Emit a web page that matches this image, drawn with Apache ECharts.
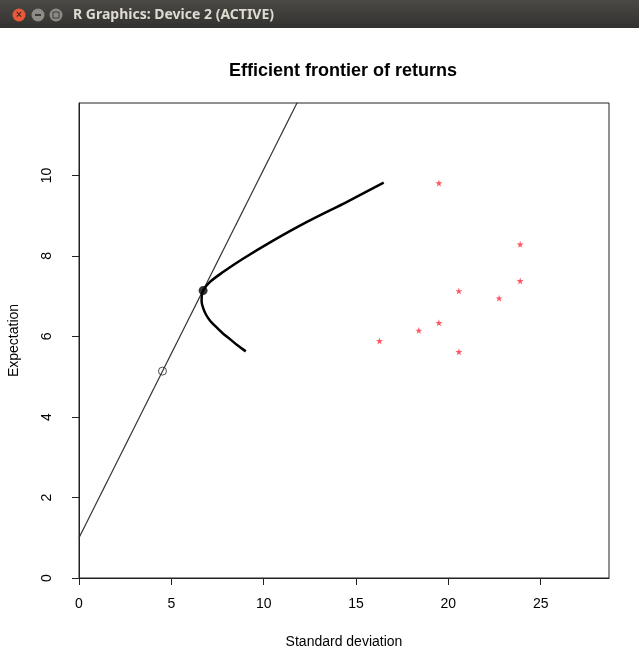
<!DOCTYPE html>
<html>
<head>
<meta charset="utf-8">
<script src="https://cdn.jsdelivr.net/npm/echarts@6/dist/echarts.min.js"></script>
<style>
html,body{margin:0;padding:0;background:#fff;}
#chart{width:639px;height:650px;}
</style>
</head>
<body>
<div id="chart"></div>
<script>
// Efficient frontier (standard deviation, expectation)
var frontierSd  = [9.03, 8.58, 8.16, 7.78, 7.44, 7.12, 6.88, 6.72, 6.64, 6.65, 6.72, 7.08, 7.80, 8.88, 10.51, 12.32, 14.49, 16.50];
var frontierExp = [5.63, 5.78, 5.94, 6.08, 6.23, 6.38, 6.54, 6.71, 6.87, 7.01, 7.14, 7.35, 7.60, 7.93, 8.38, 8.84, 9.34, 9.82];
// Individual assets (red stars)
var assetSd  = [19.49, 23.89, 23.89, 20.57, 22.75, 19.49, 18.40, 16.27, 20.57];
var assetExp = [9.81, 8.29, 7.38, 7.13, 6.95, 6.34, 6.15, 5.89, 5.62];
// Capital market line (through risk-free rate)
var cmlSd  = [0, 14];
var cmlExp = [1.0, 13.81];
// Tangency portfolio and an open-circle portfolio on the line
var tangency = [6.72, 7.14];
var openPt = [4.52, 5.14];
// Tick labels
var xTicks = [0, 5, 10, 15, 20, 25];
var yTicks = [0, 2, 4, 6, 8, 10];
var xMax = 28.7, yMax = 11.8;

function zip(a, b) { return a.map(function (v, i) { return [v, b[i]]; }); }

var chart = echarts.init(document.getElementById('chart'), null, {renderer: 'canvas'});
var FONT = '"Liberation Sans", Arial, Helvetica, sans-serif';
var star = 'path://M50,0 L61,35 L98,35 L68,57 L79,91 L50,70 L21,91 L32,57 L2,35 L39,35 Z';

var option = {
  backgroundColor: '#ffffff',
  animation: false,
  title: {
    text: 'Efficient frontier of returns',
    left: 338, top: 57, textAlign: 'center',
    textStyle: {fontFamily: FONT, fontSize: 18, fontWeight: 'bold', color: '#000'}
  },
  grid: {
    left: 79, right: 30, top: 103, bottom: 72,
    outerBoundsMode: 'none', containLabel: false,
    show: true, borderColor: '#222', borderWidth: 1, backgroundColor: 'transparent'
  },
  xAxis: {
    type: 'value', min: 0, max: xMax,
    name: 'Standard deviation', nameLocation: 'middle', nameGap: 57,
    nameTextStyle: {fontFamily: FONT, fontSize: 14, color: '#000'},
    axisLine: {show: true, onZero: false, lineStyle: {color: '#222', width: 1}},
    axisTick: {show: true, length: 7, inside: false, customValues: xTicks, lineStyle: {color: '#222'}},
    axisLabel: {customValues: xTicks, margin: 19, fontFamily: FONT, fontSize: 14, color: '#000'},
    splitLine: {show: false}
  },
  yAxis: {
    type: 'value', min: 0, max: yMax,
    name: 'Expectation', nameLocation: 'middle', nameGap: 58, nameRotate: 90,
    nameTextStyle: {fontFamily: FONT, fontSize: 14, color: '#000'},
    axisLine: {show: true, onZero: false, lineStyle: {color: '#222', width: 1}},
    axisTick: {show: true, length: 7, inside: false, customValues: yTicks, lineStyle: {color: '#222'}},
    axisLabel: {customValues: yTicks, rotate: 90, margin: 25, fontFamily: FONT, fontSize: 14, color: '#000'},
    splitLine: {show: false}
  },
  graphic: [
    {type: 'rect', left: 0, top: 0, z: 100,
     shape: {width: 639, height: 28},
     style: {fill: new echarts.graphic.LinearGradient(0, 0, 0, 1, [
       {offset: 0, color: '#4a4945'}, {offset: 1, color: '#333230'}])}},
    {type: 'circle', z: 101, shape: {cx: 19, cy: 15, r: 6.5}, style: {fill: '#e9593a'}},
    {type: 'text', z: 102, x: 19, y: 15, style: {text: '×', fill: '#4a2a20', fontSize: 10, fontWeight: 'bold', align: 'center', verticalAlign: 'middle', fontFamily: FONT}},
    {type: 'circle', z: 101, shape: {cx: 38, cy: 15, r: 6.5}, style: {fill: '#8e8c86'}},
    {type: 'rect', z: 102, shape: {x: 35, y: 14, width: 6, height: 2}, style: {fill: '#3c3b37'}},
    {type: 'circle', z: 101, shape: {cx: 56, cy: 15, r: 6.5}, style: {fill: '#8e8c86'}},
    {type: 'rect', z: 102, shape: {x: 53, y: 12, width: 6, height: 6}, style: {fill: 'none', stroke: '#3c3b37', lineWidth: 1}},
    {type: 'text', z: 102, x: 73, y: 15,
     style: {text: 'R Graphics: Device 2 (ACTIVE)', fill: '#dfdbd2', fontSize: 14, fontWeight: 'bold',
             fontFamily: '"Noto Sans", "DejaVu Sans", sans-serif', verticalAlign: 'middle'}}
  ],
  series: [
    {
      type: 'line', data: zip(cmlSd, cmlExp), showSymbol: false, clip: true,
      lineStyle: {color: '#333', width: 1.2}, z: 2, silent: true
    },
    {
      type: 'line', data: zip(frontierSd, frontierExp), showSymbol: false, smooth: 0.3, clip: true,
      lineStyle: {color: '#000', width: 2.5}, z: 3, silent: true
    },
    {
      type: 'scatter', data: zip(assetSd, assetExp), symbol: star, symbolSize: 7,
      itemStyle: {color: '#ff2a3a'}, z: 4
    },
    {
      type: 'scatter', data: [tangency], symbol: 'circle', symbolSize: 9,
      itemStyle: {color: '#000'}, z: 5
    },
    {
      type: 'scatter', data: [openPt], symbol: 'circle', symbolSize: 8,
      itemStyle: {color: 'transparent', borderColor: '#222', borderWidth: 1}, z: 5
    }
  ]
};
chart.setOption(option);
</script>
</body>
</html>
